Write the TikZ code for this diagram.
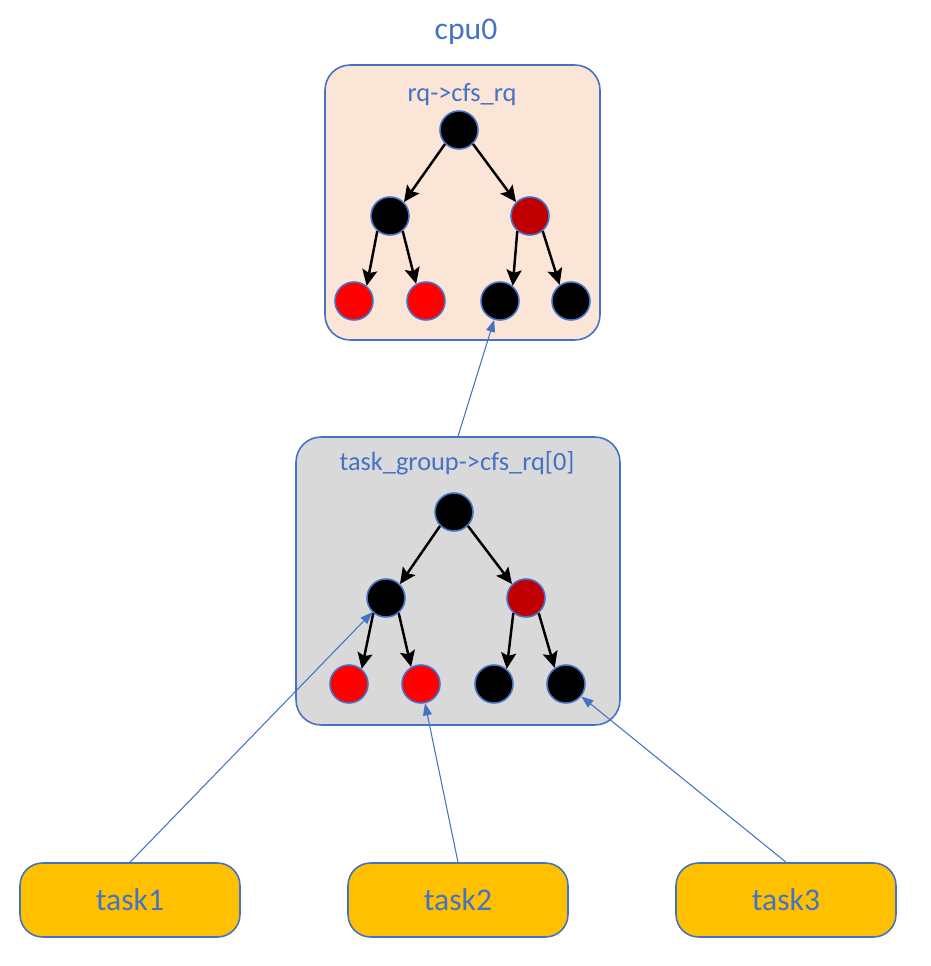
\documentclass[tikz,border=0pt]{standalone}
\usepackage{fontspec}
\setmainfont{Carlito}
\usetikzlibrary{arrows.meta}
\definecolor{lineblue}{HTML}{4472C4}
\definecolor{peach}{HTML}{FBE5D6}
\definecolor{lightgray}{HTML}{D9D9D9}
\definecolor{amber}{HTML}{FFC000}
\definecolor{darkred}{HTML}{C00000}
\tikzset{
  rb/.style={circle, draw=lineblue, line width=0.9pt, minimum size=0.76cm, inner sep=0pt},
  box/.style={rectangle, rounded corners=0.5cm, draw=lineblue, line width=0.9pt},
  task/.style={rectangle, rounded corners=0.45cm, draw=lineblue, line width=0.9pt, fill=amber,
    minimum width=4.4cm, minimum height=1.48cm, text=lineblue, font=\fontsize{18}{20}\selectfont},
  lbl/.style={text=lineblue, font=\fontsize{15}{17}\selectfont},
  edge/.style={-{Stealth[length=0.32cm, width=0.3cm, inset=0.06cm]}, line width=1.4pt},
  link/.style={-{Triangle[length=0.24cm, width=0.18cm]}, draw=lineblue, line width=0.6pt}
}
\begin{document}
\begin{tikzpicture}[x=0.02cm, y=-0.02cm]
		\useasboundingbox (0,0) rectangle (930,966);
		\node[text=lineblue, font=\fontsize{18}{20}\selectfont] (cpu0) at (466,32) {cpu0};

		\node[box, fill=peach, minimum width=5.5cm, minimum height=5.5cm] (cpu) at (462.5,202.5) {};
		\node[lbl] (cpulbl) at (462,95) {rq->cfs\_rq};
		\node[rb, fill=black] (A) at (459,130) {};
		\node[rb, fill=black] (B) at (390,216) {};
		\node[rb, fill=darkred] (C) at (530,216) {};
		\node[rb, fill=red] (D) at (354,301) {};
		\node[rb, fill=red] (E) at (426,301) {};
		\node[rb, fill=black] (F) at (500,301) {};
		\node[rb, fill=black] (G) at (571,301) {};

		\node[box, fill=lightgray, minimum width=6.48cm, minimum height=5.76cm] (grp) at (458,581) {};
		\node[lbl] (grplbl) at (457,463) {task\_group->cfs\_rq[0]};
		\node[rb, fill=black] (A2) at (454,512) {};
		\node[rb, fill=black] (B2) at (386,598) {};
		\node[rb, fill=darkred] (C2) at (526,598) {};
		\node[rb, fill=red] (D2) at (349,684) {};
		\node[rb, fill=red] (E2) at (421,684) {};
		\node[rb, fill=black] (F2) at (494,684) {};
		\node[rb, fill=black] (G2) at (566,684) {};

		\node[task] (t1) at (130,900) {task1};
		\node[task] (t2) at (458,900) {task2};
		\node[task] (t3) at (786,900) {task3};

		\draw[edge] (A.225) -- (B.45);
		\draw[edge] (A.315) -- (C.135);
		\draw[edge] (B.230) -- (D.50);
		\draw[edge] (B.310) -- (E.120);
		\draw[edge] (C.230) -- (F.50);
		\draw[edge] (C.310) -- (G.125);

		\draw[edge] (A2.225) -- (B2.45);
		\draw[edge] (A2.315) -- (C2.135);
		\draw[edge] (B2.230) -- (D2.50);
		\draw[edge] (B2.310) -- (E2.120);
		\draw[edge] (C2.230) -- (F2.50);
		\draw[edge] (C2.310) -- (G2.125);

		\draw[link] (grp.north) -- (F);
		\draw[link] (t1.north) -- (B2);
		\draw[link] (t2.north) -- (E2);
		\draw[link] (t3.north) -- (G2);

	\end{tikzpicture}
\end{document}
